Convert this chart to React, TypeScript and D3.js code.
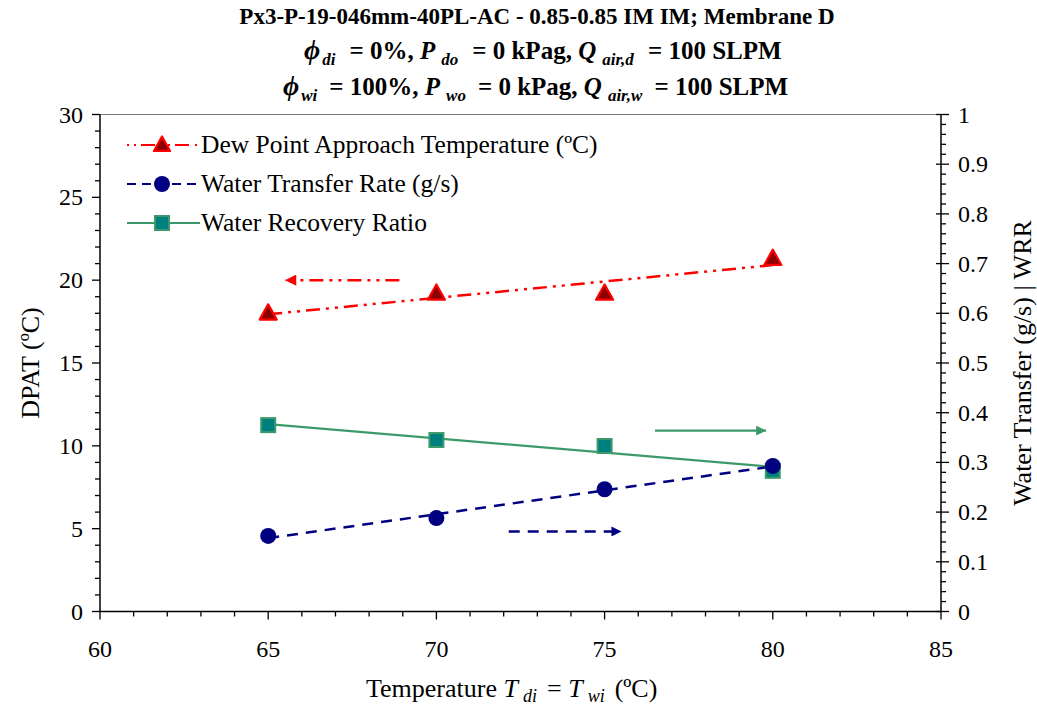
import React from "react";
import * as d3 from "d3";

const temps = [65, 70, 75, 80];
const dpat = [18.0, 19.2, 19.2, 21.3];
const waterTransfer = [0.152, 0.188, 0.246, 0.293];
const wrr = [0.375, 0.345, 0.333, 0.283];

const xTicks = [60, 65, 70, 75, 80, 85];
const yLeftTicks = [0, 5, 10, 15, 20, 25, 30];
const yRightTicks = [0, 0.1, 0.2, 0.3, 0.4, 0.5, 0.6, 0.7, 0.8, 0.9, 1];

const legendItems = [
  "Dew Point Approach Temperature (ºC)",
  "Water Transfer Rate (g/s)",
  "Water Recovery Ratio",
];

const W = 1037;
const H = 706;
const L = 100, R = 941, T = 114.5, B = 611.5;
const FONT = "'Liberation Serif', 'Times New Roman', serif";

const RED = "#ff0000";
const RED_FILL = "#8b0000";
const NAVY = "#000080";
const GREEN = "#3c9a6a";
const TEAL = "#007f7f";

const DASH_DOT = "14 6 3 6 3 6";
const DASH = "11 8";

function fit(xs: number[], ys: number[]) {
  const mx = d3.mean(xs)!;
  const my = d3.mean(ys)!;
  const num = d3.sum(xs, (x, i) => (x - mx) * (ys[i] - my));
  const den = d3.sum(xs, (x) => (x - mx) ** 2);
  const k = num / den;
  return (x: number) => my + k * (x - mx);
}

function Triangle({ x, y, s = 9 }: { x: number; y: number; s?: number }) {
  const pts = [
    [x, y - s],
    [x - s * 0.95, y + s * 0.7],
    [x + s * 0.95, y + s * 0.7],
  ];
  return (
    <polygon
      points={pts.map((p) => p.join(",")).join(" ")}
      fill={RED_FILL}
      stroke={RED}
      strokeWidth={2.2}
      strokeLinejoin="round"
    />
  );
}

function Circle({ x, y }: { x: number; y: number }) {
  return <circle cx={x} cy={y} r={8} fill={NAVY} />;
}

function Square({ x, y }: { x: number; y: number }) {
  return (
    <rect x={x - 7} y={y - 7} width={14} height={14} fill={TEAL} stroke={GREEN} strokeWidth={2} />
  );
}

function Sub({ children, size = 17, shift = 6, pre = 6, post = 10 }: { children: string; size?: number; shift?: number; pre?: number; post?: number }) {
  return (
    <>
      <tspan fontStyle="italic" fontSize={size} dy={shift} dx={pre}>{children}</tspan>
      <tspan dy={-shift} dx={post}>=</tspan>
    </>
  );
}

export default function App() {
  const x = d3.scaleLinear().domain([60, 85]).range([L, R]);
  const yL = d3.scaleLinear().domain([0, 30]).range([B, T]);
  const yR = d3.scaleLinear().domain([0, 1]).range([B, T]);

  const fD = fit(temps, dpat);
  const fW = fit(temps, waterTransfer);
  const fR = fit(temps, wrr);
  const x0 = temps[0], x1 = temps[temps.length - 1];

  const xMinor = d3.range(60, 86, 1);
  const yLMinor = d3.range(0, 31, 1);
  const yRMinor = d3.range(0, 51, 1).map((i) => i * 0.02);

  const tickStyle = { stroke: "#000", strokeWidth: 1.3 };

  return (
    <svg width={W} height={H} style={{ position: "absolute", left: 0, top: 0, background: "#fff" }} fontFamily={FONT}>
      <defs>
        <marker id="ahRed" viewBox="0 0 10 10" refX="10" refY="5" markerWidth="9" markerHeight="4.5" orient="auto" markerUnits="strokeWidth">
          <path d="M0,0 L10,5 L0,10 z" fill={RED} />
        </marker>
        <marker id="ahNavy" viewBox="0 0 10 10" refX="10" refY="5" markerWidth="8" markerHeight="4" orient="auto" markerUnits="strokeWidth">
          <path d="M0,0 L10,5 L0,10 z" fill={NAVY} />
        </marker>
        <marker id="ahGreen" viewBox="0 0 10 10" refX="10" refY="5" markerWidth="9" markerHeight="4.5" orient="auto" markerUnits="strokeWidth">
          <path d="M0,0 L10,5 L0,10 z" fill={GREEN} />
        </marker>
      </defs>

      {/* Title */}
      <g fontWeight="bold" fill="#000">
        <text x={537} y={24} fontSize={23} textAnchor="middle">Px3-P-19-046mm-40PL-AC - 0.85-0.85 IM IM; Membrane D</text>
        <text x={304} y={59} fontSize={25}>
          <tspan fontStyle="italic" fontSize={28}>ϕ</tspan>
          <Sub pre={2} post={14}>di</Sub>
          <tspan> 0%, </tspan>
          <tspan fontStyle="italic">P</tspan>
          <Sub post={14}>do</Sub>
          <tspan> 0 kPag, </tspan>
          <tspan fontStyle="italic">Q</tspan>
          <Sub post={14}>air,d</Sub>
          <tspan> 100 SLPM</tspan>
        </text>
        <text x={283} y={95} fontSize={25}>
          <tspan fontStyle="italic" fontSize={28}>ϕ</tspan>
          <Sub pre={2} post={12}>wi</Sub>
          <tspan> 100%, </tspan>
          <tspan fontStyle="italic">P</tspan>
          <Sub post={12}>wo</Sub>
          <tspan> 0 kPag, </tspan>
          <tspan fontStyle="italic">Q</tspan>
          <Sub post={12}>air,w</Sub>
          <tspan> 100 SLPM</tspan>
        </text>
      </g>

      {/* Frame */}
      <line x1={L} x2={R} y1={T} y2={T} stroke="#777" strokeWidth={1.2} />
      <line x1={L} x2={R} y1={B} y2={B} stroke="#000" strokeWidth={1.5} />
      <line x1={L} x2={L} y1={T} y2={B} stroke="#000" strokeWidth={1.5} />
      <line x1={R} x2={R} y1={T} y2={B} stroke="#000" strokeWidth={1.5} />

      {/* Bottom ticks */}
      {xMinor.map((v) => (
        <line key={"xm" + v} x1={x(v)} x2={x(v)} y1={B} y2={B + (v % 5 === 0 ? 8 : 5)} {...tickStyle} />
      ))}
      {xTicks.map((v) => (
        <text key={"xt" + v} x={x(v)} y={657} fontSize={24} textAnchor="middle">{v}</text>
      ))}

      {/* Left ticks */}
      {yLMinor.map((v) => (
        <line key={"ylm" + v} x1={L - (v % 5 === 0 ? 8 : 5)} x2={L} y1={yL(v)} y2={yL(v)} {...tickStyle} />
      ))}
      {yLeftTicks.map((v) => (
        <text key={"ylt" + v} x={83} y={yL(v) + 8} fontSize={24} textAnchor="end">{v}</text>
      ))}

      {/* Right ticks */}
      {yRMinor.map((v, i) => (
        <line key={"yrm" + i} x1={i % 5 === 0 ? R - 5 : R} x2={R + (i % 5 === 0 ? 8 : 5)} y1={yR(v)} y2={yR(v)} {...tickStyle} />
      ))}
      {yRightTicks.map((v) => (
        <text key={"yrt" + v} x={958} y={yR(v) + 8} fontSize={24} textAnchor="start">{d3.format("~g")(v)}</text>
      ))}

      {/* Axis titles */}
      <text transform={`translate(39, ${(T + B) / 2}) rotate(-90)`} fontSize={26} textAnchor="middle">DPAT (ºC)</text>
      <text transform={`translate(1031, ${(T + B) / 2}) rotate(-90)`} fontSize={26} textAnchor="middle">Water Transfer (g/s) | WRR</text>
      <text x={366} y={697} fontSize={26}>
        Temperature <tspan fontStyle="italic">T</tspan>
        <tspan fontStyle="italic" fontSize={18} dy={5} dx={5}>di</tspan>
        <tspan dy={-5} dx={10}>=</tspan>
        <tspan fontStyle="italic"> T</tspan>
        <tspan fontStyle="italic" fontSize={18} dy={5} dx={5}>wi</tspan>
        <tspan dy={-5} dx={10}>(ºC)</tspan>
      </text>

      {/* Trend lines */}
      <line x1={x(x0)} y1={yL(fD(x0))} x2={x(x1)} y2={yL(fD(x1))} stroke={RED} strokeWidth={2.5} strokeDasharray={DASH_DOT} />
      <line x1={x(x0)} y1={yR(fR(x0))} x2={x(x1)} y2={yR(fR(x1))} stroke={GREEN} strokeWidth={2.2} />
      <line x1={x(x0)} y1={yR(fW(x0))} x2={x(x1)} y2={yR(fW(x1))} stroke={NAVY} strokeWidth={2.5} strokeDasharray={DASH} />

      {/* Axis pointers */}
      <line x1={x(68.9)} y1={yL(20)} x2={x(65.5)} y2={yL(20)} stroke={RED} strokeWidth={2.5} strokeDasharray={DASH_DOT} markerEnd="url(#ahRed)" />
      <line x1={x(76.5)} y1={yR(0.364)} x2={x(79.8)} y2={yR(0.364)} stroke={GREEN} strokeWidth={2.2} markerEnd="url(#ahGreen)" />
      <line x1={x(72.15)} y1={yR(0.161)} x2={x(75.5)} y2={yR(0.161)} stroke={NAVY} strokeWidth={2.5} strokeDasharray={DASH} markerEnd="url(#ahNavy)" />

      {/* Markers */}
      {temps.map((t, i) => <Square key={"s" + t} x={x(t)} y={yR(wrr[i])} />)}
      {temps.map((t, i) => <Circle key={"c" + t} x={x(t)} y={yR(waterTransfer[i])} />)}
      {temps.map((t, i) => <Triangle key={"t" + t} x={x(t)} y={yL(dpat[i])} />)}

      {/* Legend */}
      <g>
        <line x1={127} x2={200} y1={145} y2={145} stroke={RED} strokeWidth={2.2} strokeDasharray="2 5 2 5 14 6" />
        <Triangle x={162} y={145} s={8.5} />
        <line x1={127} x2={200} y1={184} y2={184} stroke={NAVY} strokeWidth={2.2} strokeDasharray="9 6" />
        <Circle x={162} y={184} />
        <line x1={127} x2={200} y1={223} y2={223} stroke={GREEN} strokeWidth={2.2} />
        <Square x={162} y={223} />
        {legendItems.map((s, i) => (
          <text key={s} x={201} y={153 + i * 39} fontSize={25.5}>{s}</text>
        ))}
      </g>
    </svg>
  );
}
